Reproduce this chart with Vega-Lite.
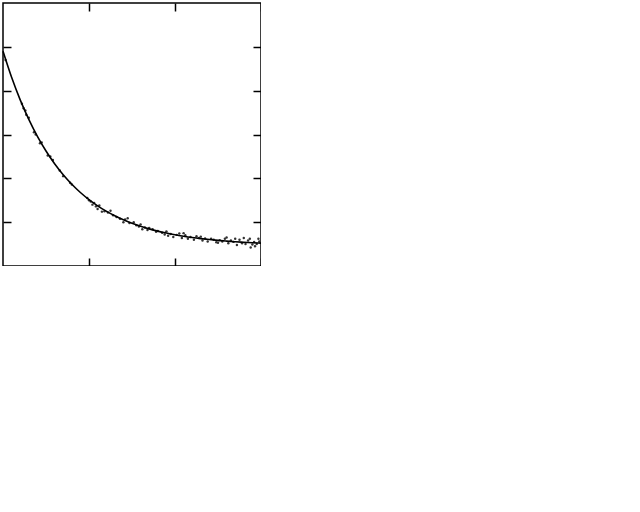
{
  "$schema": "https://vega.github.io/schema/vega-lite/v6.json",
  "width": 258,
  "height": 263,
  "autosize": "none",
  "padding": {"left": 3, "top": 3, "right": 0, "bottom": 0},
  "background": "white",
  "datasets": {
    "curve": [
      {"x": 0.0, "y": 4.900}, {"x": 0.1, "y": 4.305}, {"x": 0.2, "y": 3.790}, {"x": 0.3, "y": 3.344},
      {"x": 0.4, "y": 2.957}, {"x": 0.5, "y": 2.623}, {"x": 0.6, "y": 2.333}, {"x": 0.7, "y": 2.082},
      {"x": 0.8, "y": 1.865}, {"x": 0.9, "y": 1.677}, {"x": 1.0, "y": 1.514}, {"x": 1.1, "y": 1.373},
      {"x": 1.2, "y": 1.251}, {"x": 1.3, "y": 1.145}, {"x": 1.4, "y": 1.054}, {"x": 1.5, "y": 0.975},
      {"x": 1.6, "y": 0.906}, {"x": 1.7, "y": 0.847}, {"x": 1.8, "y": 0.795}, {"x": 1.9, "y": 0.751},
      {"x": 2.0, "y": 0.712}, {"x": 2.1, "y": 0.679}, {"x": 2.2, "y": 0.650}, {"x": 2.3, "y": 0.625},
      {"x": 2.4, "y": 0.603}, {"x": 2.5, "y": 0.584}, {"x": 2.6, "y": 0.568}, {"x": 2.7, "y": 0.554},
      {"x": 2.8, "y": 0.542}, {"x": 2.9, "y": 0.531}, {"x": 3.0, "y": 0.522}
    ],
    "pts": [
      {"x": 0.03, "y": 4.70}, {"x": 0.22, "y": 3.70}, {"x": 0.24, "y": 3.60}, {"x": 0.26, "y": 3.55},
      {"x": 0.27, "y": 3.45}, {"x": 0.30, "y": 3.38}, {"x": 0.36, "y": 3.05}, {"x": 0.38, "y": 3.00},
      {"x": 0.43, "y": 2.80}, {"x": 0.45, "y": 2.82}, {"x": 0.52, "y": 2.52}, {"x": 0.55, "y": 2.50},
      {"x": 0.58, "y": 2.42}, {"x": 0.66, "y": 2.18}, {"x": 0.70, "y": 2.05}, {"x": 0.78, "y": 1.90},
      {"x": 0.80, "y": 1.86}, {"x": 0.98, "y": 1.55}, {"x": 1.00, "y": 1.50}, {"x": 1.02, "y": 1.47},
      {"x": 1.04, "y": 1.40}, {"x": 1.06, "y": 1.44}, {"x": 1.08, "y": 1.36}, {"x": 1.10, "y": 1.30},
      {"x": 1.12, "y": 1.38}, {"x": 1.18, "y": 1.25}, {"x": 1.22, "y": 1.22}, {"x": 1.28, "y": 1.16},
      {"x": 1.32, "y": 1.12}, {"x": 1.36, "y": 1.08}, {"x": 1.40, "y": 1.00}, {"x": 1.42, "y": 1.06},
      {"x": 1.47, "y": 0.98}, {"x": 1.52, "y": 1.00}, {"x": 1.55, "y": 0.93}, {"x": 1.58, "y": 0.90},
      {"x": 1.60, "y": 0.95}, {"x": 1.65, "y": 0.88}, {"x": 1.68, "y": 0.82}, {"x": 1.70, "y": 0.87},
      {"x": 1.74, "y": 0.84}, {"x": 1.78, "y": 0.78}, {"x": 1.80, "y": 0.80}, {"x": 1.85, "y": 0.76},
      {"x": 1.88, "y": 0.72}, {"x": 1.90, "y": 0.79}, {"x": 1.95, "y": 0.73}, {"x": 1.98, "y": 0.66},
      {"x": 2.02, "y": 0.71}, {"x": 2.05, "y": 0.74}, {"x": 2.08, "y": 0.64}, {"x": 2.12, "y": 0.70},
      {"x": 2.15, "y": 0.62}, {"x": 2.18, "y": 0.66}, {"x": 2.22, "y": 0.60}, {"x": 2.25, "y": 0.68},
      {"x": 2.28, "y": 0.64}, {"x": 2.32, "y": 0.58}, {"x": 2.35, "y": 0.63}, {"x": 2.38, "y": 0.56},
      {"x": 2.42, "y": 0.62}, {"x": 2.45, "y": 0.60}, {"x": 2.48, "y": 0.54}, {"x": 2.52, "y": 0.59},
      {"x": 2.55, "y": 0.56}, {"x": 2.58, "y": 0.62}, {"x": 2.62, "y": 0.52}, {"x": 2.65, "y": 0.58},
      {"x": 2.68, "y": 0.55}, {"x": 2.72, "y": 0.48}, {"x": 2.75, "y": 0.60}, {"x": 2.78, "y": 0.52},
      {"x": 2.82, "y": 0.50}, {"x": 2.85, "y": 0.58}, {"x": 2.88, "y": 0.42}, {"x": 2.90, "y": 0.49},
      {"x": 2.92, "y": 0.55}, {"x": 2.95, "y": 0.50}, {"x": 2.98, "y": 0.56}, {"x": 3.00, "y": 0.53},
      {"x": 1.15, "y": 1.24}, {"x": 1.25, "y": 1.26}, {"x": 1.45, "y": 1.09}, {"x": 1.62, "y": 0.84},
      {"x": 1.92, "y": 0.69}, {"x": 2.10, "y": 0.75}, {"x": 2.30, "y": 0.67}, {"x": 2.50, "y": 0.53},
      {"x": 2.60, "y": 0.65}, {"x": 2.70, "y": 0.62}, {"x": 2.80, "y": 0.64}, {"x": 2.87, "y": 0.62},
      {"x": 2.93, "y": 0.45}, {"x": 2.97, "y": 0.62}
    ]
  },
  "layer": [
    {
      "data": {"name": "pts"},
      "mark": {"type": "point", "filled": true, "size": 6, "color": "#333", "opacity": 1},
      "encoding": {
        "x": {"field": "x", "type": "quantitative", "scale": {"domain": [0, 3], "nice": false, "zero": false},
          "axis": {"orient": "top", "values": [1, 2, 3], "tickSize": -8, "tickColor": "black", "tickWidth": 1.5, "labels": false, "domain": false, "grid": false, "title": null}},
        "y": {"field": "y", "type": "quantitative", "scale": {"domain": [0, 6], "nice": false, "zero": false},
          "axis": {"orient": "right", "values": [1, 2, 3, 4, 5], "tickSize": -8, "tickColor": "black", "tickWidth": 1.5, "labels": false, "domain": false, "grid": false, "title": null}}
      }
    },
    {
      "data": {"name": "curve"},
      "mark": {"type": "line", "color": "black", "strokeWidth": 1.6, "interpolate": "monotone"},
      "encoding": {
        "x": {"field": "x", "type": "quantitative", "scale": {"domain": [0, 3], "nice": false, "zero": false},
          "axis": {"orient": "bottom", "values": [1, 2, 3], "tickSize": -8, "tickColor": "black", "tickWidth": 1.5, "labels": false, "domain": false, "grid": false, "title": null}},
        "y": {"field": "y", "type": "quantitative", "scale": {"domain": [0, 6], "nice": false, "zero": false},
          "axis": {"orient": "left", "values": [1, 2, 3, 4, 5], "tickSize": -8, "tickColor": "black", "tickWidth": 1.5, "labels": false, "domain": false, "grid": false, "title": null}}
      }
    }
  ],
  "resolve": {"axis": {"x": "independent", "y": "independent"}},
  "config": {"view": {"stroke": "black", "strokeWidth": 1.5}}
}
